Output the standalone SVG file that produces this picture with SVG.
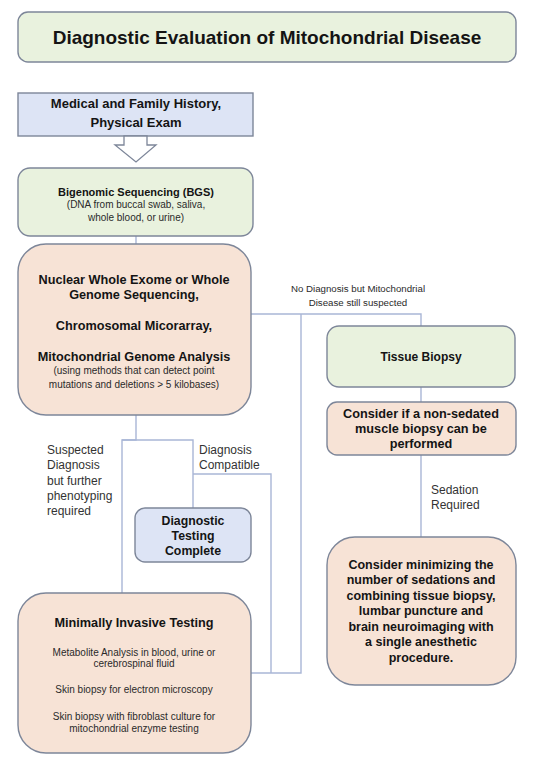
<svg xmlns="http://www.w3.org/2000/svg" width="546" height="769" viewBox="0 0 546 769">
<style>
.box{stroke:#7d8699;stroke-width:1.4}
.green{fill:#e9f2de}
.peach{fill:#f7e3d6}
.blue{fill:#dde4f5}
.b{font-family:"Liberation Sans",Arial,sans-serif;font-weight:bold;font-size:12.7px;fill:#141414;text-anchor:middle}
.s{font-family:"Liberation Sans",Arial,sans-serif;font-size:10px;fill:#2a2a2a;text-anchor:middle}
.l{font-family:"Liberation Sans",Arial,sans-serif;font-size:12px;fill:#333}
.c{fill:none;stroke:#a9b6d6;stroke-width:1.4}
</style>
<rect width="546" height="769" fill="#fff"/>
<g id="connectors">
<path class="c" d="M136 236V244"/>
<path class="c" d="M251 314H421V326"/>
<path class="c" d="M301 314V673H251"/>
<path class="c" d="M421 387V402"/>
<path class="c" d="M421 455V537"/>
<path class="c" d="M136 415V440H122V593"/>
<path class="c" d="M122 440H193V508"/>
<path class="c" d="M193 474H271V673"/>
</g>
<g id="title">
<rect class="box green" x="18" y="12" width="498" height="50" rx="10"/>
<text class="b" x="267" y="44" style="font-size:19px">Diagnostic Evaluation of Mitochondrial Disease</text>
</g>
<g id="history">
<rect class="box blue" x="18" y="93" width="235" height="43"/>
<text class="b" x="136" y="108" style="font-size:13px">Medical and Family History,</text>
<text class="b" x="136" y="127" style="font-size:13px">Physical Exam</text>
</g>
<g id="arrow">
<path d="M124 136H147V145H156L136 162L115 145H124Z" fill="#fff" stroke="#7d8699" stroke-width="1.3"/>
</g>
<g id="bgs">
<rect class="box green" x="18" y="168" width="235" height="68" rx="12"/>
<text class="b" x="136" y="196" style="font-size:11px">Bigenomic Sequencing (BGS)</text>
<text class="s" x="136" y="208">(DNA from buccal swab, saliva,</text>
<text class="s" x="136" y="221">whole blood,  or urine)</text>
</g>
<g id="nuclear">
<rect class="box peach" x="18" y="244" width="233" height="171" rx="28"/>
<text class="b" x="134" y="283.5">Nuclear Whole Exome or Whole</text>
<text class="b" x="134" y="298.5">Genome Sequencing,</text>
<text class="b" x="134" y="329.5">Chromosomal Micorarray,</text>
<text class="b" x="134" y="360.5">Mitochondrial Genome Analysis</text>
<text class="s" x="134" y="374">(using methods that can detect point</text>
<text class="s" x="134" y="388">mutations and deletions &gt; 5 kilobases)</text>
</g>
<g id="label-nodiag">
<text class="s" x="358" y="292" style="font-size:9.7px">No Diagnosis but Mitochondrial</text>
<text class="s" x="358" y="306" style="font-size:9.7px">Disease still suspected</text>
</g>
<g id="tissue">
<rect class="box green" x="327" y="326" width="188" height="61" rx="12"/>
<text class="b" x="421" y="361" style="font-size:12px">Tissue Biopsy</text>
</g>
<g id="nonsedated">
<rect class="box peach" x="327" y="402" width="189" height="53" rx="10"/>
<text class="b" x="421" y="418">Consider if a non-sedated</text>
<text class="b" x="421" y="433">muscle biopsy can be</text>
<text class="b" x="421" y="448">performed</text>
</g>
<g id="label-sedation">
<text class="l" x="431" y="494">Sedation</text>
<text class="l" x="431" y="509">Required</text>
</g>
<g id="minimize">
<rect class="box peach" x="327" y="537" width="189" height="148" rx="28"/>
<text class="b" x="421" y="568.5" style="font-size:12.5px">Consider minimizing the</text>
<text class="b" x="421" y="584" style="font-size:12.5px">number of sedations and</text>
<text class="b" x="421" y="599.5" style="font-size:12.5px">combining tissue biopsy,</text>
<text class="b" x="421" y="615" style="font-size:12.5px">lumbar puncture and</text>
<text class="b" x="421" y="630.5" style="font-size:12.5px">brain neuroimaging with</text>
<text class="b" x="421" y="646" style="font-size:12.5px">a single anesthetic</text>
<text class="b" x="421" y="661.5" style="font-size:12.5px">procedure.</text>
</g>
<g id="label-suspected">
<text class="l" x="47" y="454">Suspected</text>
<text class="l" x="47" y="469">Diagnosis</text>
<text class="l" x="47" y="484.5">but further</text>
<text class="l" x="47" y="500">phenotyping</text>
<text class="l" x="47" y="515">required</text>
</g>
<g id="label-compatible">
<text class="l" x="199" y="454">Diagnosis</text>
<text class="l" x="199" y="469">Compatible</text>
</g>
<g id="complete">
<rect class="box blue" x="135" y="508" width="116" height="54" rx="10"/>
<text class="b" x="193" y="524.5" style="font-size:12.3px">Diagnostic</text>
<text class="b" x="193" y="539.5" style="font-size:12.3px">Testing</text>
<text class="b" x="193" y="554.5" style="font-size:12.3px">Complete</text>
</g>
<g id="minimal">
<rect class="box peach" x="18" y="593" width="233" height="160" rx="28"/>
<text class="b" x="134" y="626.5">Minimally Invasive Testing</text>
<text class="s" x="134" y="655.7">Metabolite Analysis in blood, urine or</text>
<text class="s" x="134" y="667.2">cerebrospinal fluid</text>
<text class="s" x="134" y="692.7">Skin biopsy for electron microscopy</text>
<text class="s" x="134" y="719.7">Skin biopsy with fibroblast culture for</text>
<text class="s" x="134" y="731.7">mitochondrial enzyme testing</text>
</g>
</svg>
